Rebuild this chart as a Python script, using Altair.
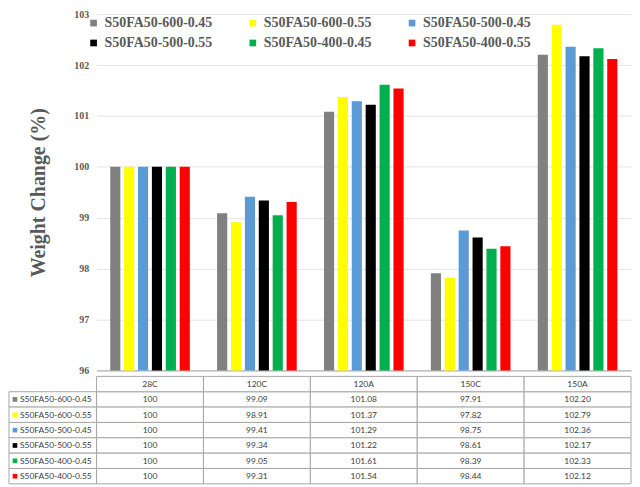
import altair as alt
import pandas as pd

categories = ["28C", "120C", "120A", "150C", "150A"]
series = ["S50FA50-600-0.45", "S50FA50-600-0.55", "S50FA50-500-0.45",
          "S50FA50-500-0.55", "S50FA50-400-0.45", "S50FA50-400-0.55"]
colors = ["#808080", "#FFFF00", "#5B9BD5", "#000000", "#00B050", "#FF0000"]

s600_045 = [100, 99.09, 101.08, 97.91, 102.20]
s600_055 = [100, 98.91, 101.37, 97.82, 102.79]
s500_045 = [100, 99.41, 101.29, 98.75, 102.36]
s500_055 = [100, 99.34, 101.22, 98.61, 102.17]
s400_045 = [100, 99.05, 101.61, 98.39, 102.33]
s400_055 = [100, 99.31, 101.54, 98.44, 102.12]

cell_text = [
    ["100", "99.09", "101.08", "97.91", "102.20"],
    ["100", "98.91", "101.37", "97.82", "102.79"],
    ["100", "99.41", "101.29", "98.75", "102.36"],
    ["100", "99.34", "101.22", "98.61", "102.17"],
    ["100", "99.05", "101.61", "98.39", "102.33"],
    ["100", "99.31", "101.54", "98.44", "102.12"],
]

all_vals = [s600_045, s600_055, s500_045, s500_055, s400_045, s400_055]
rows = []
for s, vals, texts in zip(series, all_vals, cell_text):
    for c, v, t in zip(categories, vals, texts):
        rows.append({"series": s, "cat": c, "value": v, "label": t, "row": s})
df = pd.DataFrame(rows)

header_df = pd.DataFrame({"cat": categories, "label": categories, "row": ["hdr"] * len(categories)})
legend_df = pd.DataFrame({"series": series, "row": series})
row_order = ["hdr"] + series

# legend fills column-major (2 rows x 3 columns): reorder so rows read like the reference
leg_order = [0, 3, 1, 4, 2, 5]
color_domain = [series[i] for i in leg_order]
color_range = [colors[i] for i in leg_order]

serif = "Liberation Serif"
tfont = "Lato"
color_scale = alt.Scale(domain=color_domain, range=color_range)

bars = alt.Chart(df).mark_bar().encode(
    x=alt.X("cat:N", sort=categories,
            scale=alt.Scale(paddingInner=0.22, paddingOuter=0.11),
            axis=alt.Axis(title=None, labels=False, ticks=False, grid=False,
                          domainColor="#a6a6a6")),
    xOffset=alt.XOffset("series:N", sort=series,
                        scale=alt.Scale(paddingInner=0.27, paddingOuter=0.135)),
    y=alt.Y("value:Q", scale=alt.Scale(domain=[96, 103], nice=False, zero=False),
            axis=alt.Axis(values=list(range(96, 104)), title="Weight Change (%)",
                          titleFont=serif, titleFontSize=20, titleFontWeight="bold",
                          titleColor="#595959", titlePadding=25,
                          labelFont=serif, labelFontSize=10, labelFontWeight="bold",
                          labelColor="#595959", labelPadding=8, ticks=False, domain=False,
                          gridColor="#e3e3e3")),
    y2=alt.datum(96),
    color=alt.Color("series:N", sort=color_domain, scale=color_scale,
                    legend=alt.Legend(title=None, orient="none", legendX=-10, legendY=2,
                                      columns=3, symbolType="square", symbolSize=45,
                                      symbolStrokeWidth=0,
                                      labelFont=serif, labelFontSize=14, labelFontWeight="bold",
                                      labelColor="#595959", labelLimit=200,
                                      columnPadding=33, rowPadding=6, labelOffset=4)),
).properties(width=537, height=358)

xs = alt.X("cat:N", sort=categories, scale=alt.Scale(paddingInner=0, paddingOuter=0), axis=None)
ys = alt.Y("row:N", sort=row_order, scale=alt.Scale(domain=row_order, paddingInner=0, paddingOuter=0), axis=None)

cells_df = pd.concat([df[["cat", "row", "label"]], header_df], ignore_index=True)

cells = alt.Chart(cells_df).mark_rect(fill="white", stroke="#a6a6a6", strokeWidth=1).encode(x=xs, y=ys)
cell_txt = alt.Chart(cells_df).mark_text(font=tfont, fontSize=8.5, color="#404040").encode(
    x=xs, y=ys, text="label:N")

leg_cells = alt.Chart(legend_df).mark_rect(fill="white", stroke="#a6a6a6", strokeWidth=1).encode(
    x=alt.value(-88), x2=alt.value(0), y=ys)
leg_sq = alt.Chart(legend_df).mark_square(size=22, opacity=1).encode(
    x=alt.value(-82), y=ys,
    color=alt.Color("series:N", sort=color_domain, scale=color_scale, legend=None))
leg_txt = alt.Chart(legend_df).mark_text(font=tfont, fontSize=8.5, color="#404040", align="left").encode(
    x=alt.value(-77), y=ys, text="series:N")

table = alt.layer(cells, cell_txt, leg_cells, leg_sq, leg_txt).properties(width=537, height=108)

chart = alt.vconcat(bars, table, spacing=0).properties(
    padding={"left": 0, "top": 0, "right": 0, "bottom": 0}
).configure_view(stroke=None).resolve_scale(color="shared")

chart.save("out.html", embed_options={"renderer": "svg", "actions": False})
